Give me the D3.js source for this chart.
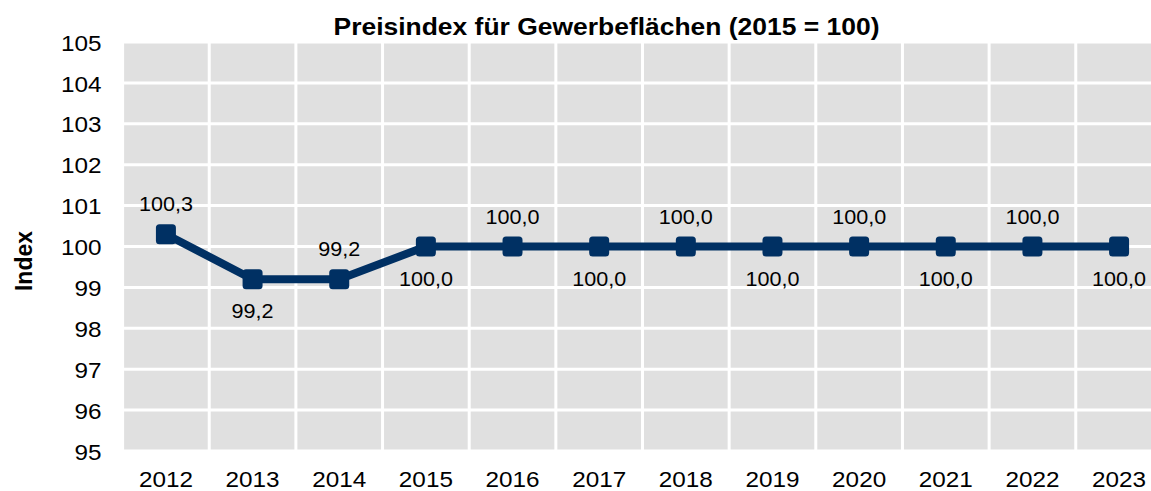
<!DOCTYPE html>
<html><head><meta charset="utf-8">
<script src="https://cdn.jsdelivr.net/npm/d3@7"></script>
<style>html,body{margin:0;padding:0;background:#fff;overflow:hidden}</style>
</head><body><svg id="c" width="1151" height="491"></svg>
<script>
const years = ["2012","2013","2014","2015","2016","2017","2018","2019","2020","2021","2022","2023"];
const values = [100.3, 99.2, 99.2, 100.0, 100.0, 100.0, 100.0, 100.0, 100.0, 100.0, 100.0, 100.0];
const labels = ["100,3","99,2","99,2","100,0","100,0","100,0","100,0","100,0","100,0","100,0","100,0","100,0"];
const yTicks = [95,96,97,98,99,100,101,102,103,104,105];
const title = "Preisindex für Gewerbeflächen (2015 = 100)";
const yTitle = "Index";

(function(){
const svg = d3.select("#c");
const font = "'Liberation Sans', Arial, sans-serif";
const pLeft = 122.6, band = 86.65, pRight = pLeft + band*years.length;
const pTop = 42, pBottom = 451;
const navy = "#003063";
const sx = 1.08;

const x = d3.scaleBand().domain(years).range([pLeft, pRight]).padding(0);
const y = d3.scaleLinear().domain([95,105]).range([pBottom, pTop]);

svg.append("rect").attr("x", pLeft).attr("y", pTop).attr("width", pRight-pLeft).attr("height", pBottom-pTop).attr("fill", "#e0e0e0");

svg.append("g").selectAll("line").data(yTicks).join("line")
  .attr("x1", pLeft).attr("x2", pRight)
  .attr("y1", d => y(d)).attr("y2", d => y(d))
  .attr("stroke", "#fff").attr("stroke-width", 3);
const bounds = years.map(d => x(d)).concat([pRight]);
svg.append("g").selectAll("line").data(bounds).join("line")
  .attr("x1", d => d).attr("x2", d => d)
  .attr("y1", pTop).attr("y2", pBottom)
  .attr("stroke", "#fff").attr("stroke-width", 3);

const yAxis = d3.axisLeft(y).tickValues(yTicks).tickSize(0).tickPadding(0).tickFormat(d3.format("d"));
const ga = svg.append("g").attr("transform", `translate(101.5,0)`).call(yAxis);
ga.select(".domain").remove();
ga.selectAll("text").attr("font-family", font).attr("font-size", "22.5px").attr("fill", "#000")
  .attr("x", 0).attr("dy", "0.36em").attr("transform", `scale(${sx},1)`);

const xAxis = d3.axisBottom(x).tickSize(0).tickPadding(0);
const gx = svg.append("g").attr("transform", `translate(0,${pBottom})`).call(xAxis);
gx.select(".domain").remove();
gx.selectAll("text").attr("font-family", font).attr("font-size", "22.5px").attr("fill", "#000")
  .attr("dy", null).attr("y", 36.3).attr("transform", `scale(${sx},1)`);

const cx = d => x(d) + x.bandwidth()/2;
const pts = years.map((d,i) => [cx(d), y(values[i])]);
svg.append("path").attr("d", d3.line()(pts)).attr("fill", "none").attr("stroke", navy).attr("stroke-width", 8).attr("stroke-linejoin", "round");

svg.append("g").selectAll("rect").data(pts).join("rect")
  .attr("x", d => d[0]-10).attr("y", d => d[1]-10).attr("width", 20).attr("height", 20)
  .attr("rx", 3.5).attr("fill", navy);

svg.append("g").selectAll("text").data(years).join("text")
  .attr("transform", (d,i) => `translate(${cx(d)},${y(values[i]) + (i % 2 === 0 ? -23 : 39)}) scale(${sx},1)`)
  .attr("text-anchor", "middle").attr("font-family", font).attr("font-size", "20px").attr("fill", "#000")
  .text((d,i) => labels[i]);

svg.append("text").attr("x", 333.5).attr("y", 34.5)
  .attr("textLength", 546).attr("lengthAdjust", "spacingAndGlyphs")
  .attr("font-family", font).attr("font-weight", "bold").attr("font-size", "23.5px").text(title);

svg.append("text").attr("transform", "translate(31.5,261) rotate(-90)").attr("text-anchor", "middle")
  .attr("font-family", font).attr("font-weight", "bold").attr("font-size", "23px").text(yTitle);
})();
</script></body></html>
